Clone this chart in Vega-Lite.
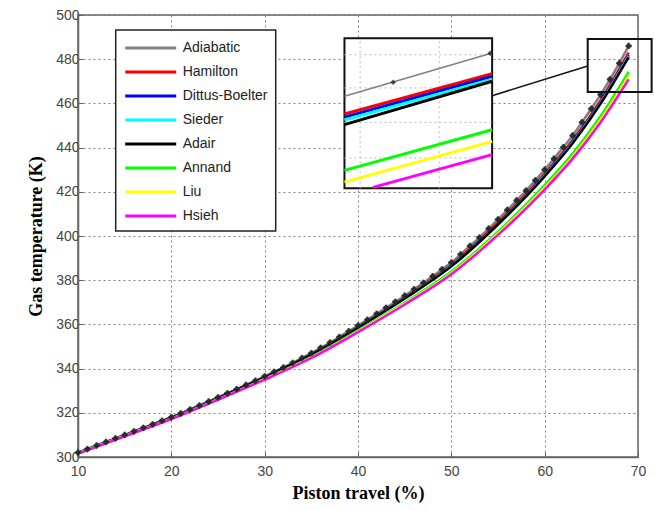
{
  "$schema": "https://vega.github.io/schema/vega-lite/v6.json",
  "width": 560,
  "height": 442,
  "autosize": "none",
  "padding": {"left": 78, "top": 15, "right": 16, "bottom": 53},
  "background": "white",
  "datasets": {
    "curves": [
      {"series":"Adiabatic","x":10,"y":302.0},{"series":"Adiabatic","x":11,"y":303.6},{"series":"Adiabatic","x":12,"y":305.2},{"series":"Adiabatic","x":13,"y":306.8},{"series":"Adiabatic","x":14,"y":308.4},
      {"series":"Adiabatic","x":15,"y":310.0},{"series":"Adiabatic","x":16,"y":311.6},{"series":"Adiabatic","x":17,"y":313.2},{"series":"Adiabatic","x":18,"y":314.8},{"series":"Adiabatic","x":19,"y":316.4},
      {"series":"Adiabatic","x":20,"y":318.0},{"series":"Adiabatic","x":21,"y":319.7},{"series":"Adiabatic","x":22,"y":321.5},{"series":"Adiabatic","x":23,"y":323.3},{"series":"Adiabatic","x":24,"y":325.1},
      {"series":"Adiabatic","x":25,"y":327.0},{"series":"Adiabatic","x":26,"y":328.8},{"series":"Adiabatic","x":27,"y":330.7},{"series":"Adiabatic","x":28,"y":332.6},{"series":"Adiabatic","x":29,"y":334.5},
      {"series":"Adiabatic","x":30,"y":336.5},{"series":"Adiabatic","x":31,"y":338.5},{"series":"Adiabatic","x":32,"y":340.5},{"series":"Adiabatic","x":33,"y":342.6},{"series":"Adiabatic","x":34,"y":344.8},
      {"series":"Adiabatic","x":35,"y":347.0},{"series":"Adiabatic","x":36,"y":349.4},{"series":"Adiabatic","x":37,"y":351.8},{"series":"Adiabatic","x":38,"y":354.3},{"series":"Adiabatic","x":39,"y":356.9},
      {"series":"Adiabatic","x":40,"y":359.5},{"series":"Adiabatic","x":41,"y":362.1},{"series":"Adiabatic","x":42,"y":364.8},{"series":"Adiabatic","x":43,"y":367.5},{"series":"Adiabatic","x":44,"y":370.2},
      {"series":"Adiabatic","x":45,"y":373.0},{"series":"Adiabatic","x":46,"y":375.9},{"series":"Adiabatic","x":47,"y":378.8},{"series":"Adiabatic","x":48,"y":381.8},{"series":"Adiabatic","x":49,"y":384.9},
      {"series":"Adiabatic","x":50,"y":388.0},{"series":"Adiabatic","x":51,"y":391.7},{"series":"Adiabatic","x":52,"y":395.5},{"series":"Adiabatic","x":53,"y":399.3},{"series":"Adiabatic","x":54,"y":403.3},
      {"series":"Adiabatic","x":55,"y":407.5},{"series":"Adiabatic","x":56,"y":411.8},{"series":"Adiabatic","x":57,"y":416.1},{"series":"Adiabatic","x":58,"y":420.5},{"series":"Adiabatic","x":59,"y":425.2},
      {"series":"Adiabatic","x":60,"y":430.0},{"series":"Adiabatic","x":61,"y":435.0},{"series":"Adiabatic","x":62,"y":440.2},{"series":"Adiabatic","x":63,"y":445.5},{"series":"Adiabatic","x":64,"y":451.5},
      {"series":"Adiabatic","x":65,"y":457.6},{"series":"Adiabatic","x":66,"y":464.0},{"series":"Adiabatic","x":67,"y":470.9},{"series":"Adiabatic","x":68,"y":478.2},{"series":"Adiabatic","x":69,"y":486.0},
      {"series":"Hamilton","x":10,"y":301.9},{"series":"Hamilton","x":15,"y":309.9},{"series":"Hamilton","x":20,"y":317.85},{"series":"Hamilton","x":25,"y":326.8},{"series":"Hamilton","x":30,"y":336.2},{"series":"Hamilton","x":35,"y":346.55},{"series":"Hamilton","x":40,"y":358.9},{"series":"Hamilton","x":45,"y":372.2},{"series":"Hamilton","x":50,"y":386.95},{"series":"Hamilton","x":55,"y":406.1},{"series":"Hamilton","x":60,"y":428.2},{"series":"Hamilton","x":63,"y":443.4},{"series":"Hamilton","x":66,"y":461.5},{"series":"Hamilton","x":69,"y":483.0},
      {"series":"Dittus-Boelter","x":10,"y":301.9},{"series":"Dittus-Boelter","x":15,"y":309.85},{"series":"Dittus-Boelter","x":20,"y":317.8},{"series":"Dittus-Boelter","x":25,"y":326.7},{"series":"Dittus-Boelter","x":30,"y":336.1},{"series":"Dittus-Boelter","x":35,"y":346.4},{"series":"Dittus-Boelter","x":40,"y":358.7},{"series":"Dittus-Boelter","x":45,"y":371.9},{"series":"Dittus-Boelter","x":50,"y":386.55},{"series":"Dittus-Boelter","x":55,"y":405.6},{"series":"Dittus-Boelter","x":60,"y":427.55},{"series":"Dittus-Boelter","x":63,"y":442.65},{"series":"Dittus-Boelter","x":66,"y":460.6},{"series":"Dittus-Boelter","x":69,"y":481.9},
      {"series":"Sieder","x":10,"y":301.85},{"series":"Sieder","x":15,"y":309.8},{"series":"Sieder","x":20,"y":317.75},{"series":"Sieder","x":25,"y":326.7},{"series":"Sieder","x":30,"y":336.05},{"series":"Sieder","x":35,"y":346.35},{"series":"Sieder","x":40,"y":358.6},{"series":"Sieder","x":45,"y":371.8},{"series":"Sieder","x":50,"y":386.4},{"series":"Sieder","x":55,"y":405.4},{"series":"Sieder","x":60,"y":427.3},{"series":"Sieder","x":63,"y":442.35},{"series":"Sieder","x":66,"y":460.25},{"series":"Sieder","x":69,"y":481.5},
      {"series":"Adair","x":10,"y":301.85},{"series":"Adair","x":15,"y":309.8},{"series":"Adair","x":20,"y":317.75},{"series":"Adair","x":25,"y":326.65},{"series":"Adair","x":30,"y":336.0},{"series":"Adair","x":35,"y":346.3},{"series":"Adair","x":40,"y":358.5},{"series":"Adair","x":45,"y":371.7},{"series":"Adair","x":50,"y":386.25},{"series":"Adair","x":55,"y":405.2},{"series":"Adair","x":60,"y":427.0},{"series":"Adair","x":63,"y":442.0},{"series":"Adair","x":66,"y":459.9},{"series":"Adair","x":69,"y":481.0},
      {"series":"Annand","x":10,"y":301.6},{"series":"Annand","x":15,"y":309.6},{"series":"Annand","x":20,"y":317.4},{"series":"Annand","x":25,"y":326.2},{"series":"Annand","x":30,"y":335.3},{"series":"Annand","x":35,"y":345.3},{"series":"Annand","x":40,"y":357.2},{"series":"Annand","x":45,"y":369.9},{"series":"Annand","x":50,"y":383.9},{"series":"Annand","x":55,"y":402.0},{"series":"Annand","x":60,"y":423.0},{"series":"Annand","x":63,"y":437.3},{"series":"Annand","x":66,"y":454.3},{"series":"Annand","x":69,"y":474.3},
      {"series":"Liu","x":10,"y":301.6},{"series":"Liu","x":15,"y":309.5},{"series":"Liu","x":20,"y":317.3},{"series":"Liu","x":25,"y":326.0},{"series":"Liu","x":30,"y":335.2},{"series":"Liu","x":35,"y":345.0},{"series":"Liu","x":40,"y":356.8},{"series":"Liu","x":45,"y":369.4},{"series":"Liu","x":50,"y":383.2},{"series":"Liu","x":55,"y":401.2},{"series":"Liu","x":60,"y":421.9},{"series":"Liu","x":63,"y":436.0},{"series":"Liu","x":66,"y":452.7},{"series":"Liu","x":69,"y":472.5},
      {"series":"Hsieh","x":10,"y":301.5},{"series":"Hsieh","x":15,"y":309.4},{"series":"Hsieh","x":20,"y":317.2},{"series":"Hsieh","x":25,"y":325.9},{"series":"Hsieh","x":30,"y":335.0},{"series":"Hsieh","x":35,"y":344.8},{"series":"Hsieh","x":40,"y":356.5},{"series":"Hsieh","x":45,"y":369.0},{"series":"Hsieh","x":50,"y":382.7},{"series":"Hsieh","x":55,"y":400.5},{"series":"Hsieh","x":60,"y":421.0},{"series":"Hsieh","x":63,"y":435.0},{"series":"Hsieh","x":66,"y":451.5},{"series":"Hsieh","x":69,"y":470.9}
    ],
    "insetBox": [{"x1":38.55,"x2":54.37,"y1":421.6,"y2":489.5}],
    "zoomBox": [{"x1":64.61,"x2":71.46,"y1":465.2,"y2":489.1}],
    "connector": [{"x1":54.37,"x2":64.61,"y1":463.5,"y2":476.9}],
    "insetGridV": [{"x":40.23,"y1":421.6,"y2":489.5},{"x":48.7,"y1":421.6,"y2":489.5}],
    "insetGridH": [{"y":482.0,"x1":38.55,"x2":54.37},{"y":467.0,"x1":38.55,"x2":54.37},{"y":451.4,"x1":38.55,"x2":54.37},{"y":435.3,"x1":38.55,"x2":54.37}],
    "insetLines": [
      {"series":"Adiabatic","x":38.55,"y":463.2},{"series":"Adiabatic","x":54.37,"y":482.8},
      {"series":"Hamilton","x":38.55,"y":455.2},{"series":"Hamilton","x":54.37,"y":473.4},
      {"series":"Dittus-Boelter","x":38.55,"y":453.8},{"series":"Dittus-Boelter","x":54.37,"y":472.2},
      {"series":"Sieder","x":38.55,"y":452.5},{"series":"Sieder","x":54.37,"y":471.0},
      {"series":"Adair","x":38.55,"y":450.4},{"series":"Adair","x":54.37,"y":470.0},
      {"series":"Annand","x":38.55,"y":429.7},{"series":"Annand","x":54.37,"y":448.1},
      {"series":"Liu","x":38.55,"y":424.4},{"series":"Liu","x":54.37,"y":442.8},
      {"series":"Hsieh","x":41.6,"y":422.0},{"series":"Hsieh","x":54.37,"y":436.8}
    ],
    "insetMarkers": [{"x":43.77,"y":469.6},{"x":54.15,"y":482.7}]
  },
  "config": {
    "view": {"stroke": "#666", "strokeWidth": 1.5},
    "axis": {
      "labelFont": "Liberation Sans", "labelFontSize": 14, "labelColor": "#444",
      "titleFont": "Liberation Serif", "titleFontSize": 18, "titleFontWeight": "bold", "titleColor": "#000",
      "domainColor": "#666", "domainWidth": 1.5, "tickColor": "#666", "tickSize": -5,
      "gridColor": "#777", "gridDash": [2, 3], "gridOpacity": 0.9, "labelFlush": false
    },
    "legend": {
      "orient": "none", "legendX": 37.7, "legendY": 15,
      "fillColor": "white", "strokeColor": "#222", "strokeWidth": 1.5, "padding": 8,
      "symbolType": "M-1,0H5", "symbolSize": 289, "symbolStrokeWidth": 3,
      "labelOffset": 39, "rowPadding": 7,
      "labelFont": "Liberation Sans", "labelFontSize": 14, "labelColor": "#222",
      "title": null
    }
  },
  "layer": [
    {
      "data": {"name": "curves"},
      "mark": {"type": "line", "interpolate": "monotone", "strokeWidth": 2.5},
      "encoding": {
        "x": {"field": "x", "type": "quantitative", "title": "Piston travel (%)",
              "scale": {"domain": [10, 70], "nice": false},
              "axis": {"values": [10, 20, 30, 40, 50, 60, 70], "labelPadding": 12, "titlePadding": 6}},
        "y": {"field": "y", "type": "quantitative", "title": "Gas temperature (K)",
              "scale": {"domain": [300, 500], "nice": false, "zero": false},
              "axis": {"values": [300, 320, 340, 360, 380, 400, 420, 440, 460, 480, 500], "labelPadding": 4, "titlePadding": 10}},
        "color": {"field": "series", "type": "nominal",
                  "scale": {"domain": ["Adiabatic", "Hamilton", "Dittus-Boelter", "Sieder", "Adair", "Annand", "Liu", "Hsieh"],
                            "range": ["#808080", "#ff0000", "#0000ff", "#00ffff", "#000000", "#00ff00", "#ffff00", "#ff00ff"]},
                  "legend": {"title": null}}
      }
    },
    {
      "data": {"name": "curves"},
      "transform": [{"filter": "datum.series === 'Adiabatic'"}],
      "mark": {"type": "point", "shape": "diamond", "filled": true, "color": "#111", "size": 45, "opacity": 0.85},
      "encoding": {
        "x": {"field": "x", "type": "quantitative", "title": "Piston travel (%)"},
        "y": {"field": "y", "type": "quantitative", "title": "Gas temperature (K)"}
      }
    },
    {
      "data": {"name": "curves"},
      "transform": [{"filter": "datum.series === 'Adiabatic'"}],
      "mark": {"type": "point", "shape": "cross", "filled": true, "color": "#333", "size": 40, "opacity": 0.6},
      "encoding": {
        "x": {"field": "x", "type": "quantitative", "title": "Piston travel (%)"},
        "y": {"field": "y", "type": "quantitative", "title": "Gas temperature (K)"}
      }
    },
    {
      "data": {"name": "insetBox"},
      "mark": {"type": "rect", "fill": "white", "stroke": "#111", "strokeWidth": 2},
      "encoding": {
        "x": {"field": "x1", "type": "quantitative", "title": "Piston travel (%)"},
        "x2": {"field": "x2"},
        "y": {"field": "y1", "type": "quantitative", "title": "Gas temperature (K)"},
        "y2": {"field": "y2"}
      }
    },
    {
      "data": {"name": "insetGridV"},
      "mark": {"type": "rule", "color": "#bbb", "strokeDash": [2, 3], "strokeWidth": 1},
      "encoding": {
        "x": {"field": "x", "type": "quantitative", "title": "Piston travel (%)"},
        "y": {"field": "y1", "type": "quantitative", "title": "Gas temperature (K)"},
        "y2": {"field": "y2"}
      }
    },
    {
      "data": {"name": "insetGridH"},
      "mark": {"type": "rule", "color": "#bbb", "strokeDash": [2, 3], "strokeWidth": 1},
      "encoding": {
        "y": {"field": "y", "type": "quantitative", "title": "Gas temperature (K)"},
        "x": {"field": "x1", "type": "quantitative", "title": "Piston travel (%)"},
        "x2": {"field": "x2"}
      }
    },
    {
      "data": {"name": "insetLines"},
      "transform": [{"filter": "datum.series !== 'Adiabatic'"}],
      "mark": {"type": "line", "strokeWidth": 3},
      "encoding": {
        "x": {"field": "x", "type": "quantitative", "title": "Piston travel (%)"},
        "y": {"field": "y", "type": "quantitative", "title": "Gas temperature (K)"},
        "color": {"field": "series", "type": "nominal", "legend": null}
      }
    },
    {
      "data": {"name": "insetLines"},
      "transform": [{"filter": "datum.series === 'Adiabatic'"}],
      "mark": {"type": "line", "strokeWidth": 1.5, "color": "#808080"},
      "encoding": {
        "x": {"field": "x", "type": "quantitative", "title": "Piston travel (%)"},
        "y": {"field": "y", "type": "quantitative", "title": "Gas temperature (K)"}
      }
    },
    {
      "data": {"name": "insetMarkers"},
      "mark": {"type": "point", "shape": "diamond", "filled": true, "color": "#111", "size": 30},
      "encoding": {
        "x": {"field": "x", "type": "quantitative", "title": "Piston travel (%)"},
        "y": {"field": "y", "type": "quantitative", "title": "Gas temperature (K)"}
      }
    },
    {
      "data": {"name": "connector"},
      "mark": {"type": "rule", "color": "#111", "strokeWidth": 1.5},
      "encoding": {
        "x": {"field": "x1", "type": "quantitative", "title": "Piston travel (%)"},
        "x2": {"field": "x2"},
        "y": {"field": "y1", "type": "quantitative", "title": "Gas temperature (K)"},
        "y2": {"field": "y2"}
      }
    },
    {
      "data": {"name": "zoomBox"},
      "mark": {"type": "rect", "fill": null, "fillOpacity": 0, "stroke": "#111", "strokeWidth": 2},
      "encoding": {
        "x": {"field": "x1", "type": "quantitative", "title": "Piston travel (%)"},
        "x2": {"field": "x2"},
        "y": {"field": "y1", "type": "quantitative", "title": "Gas temperature (K)"},
        "y2": {"field": "y2"}
      }
    }
  ]
}
